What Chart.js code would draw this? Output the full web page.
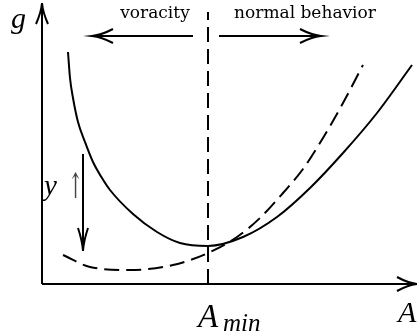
<!DOCTYPE html>
<html>
<head>
<meta charset="utf-8">
<script src="https://cdn.jsdelivr.net/npm/chart.js@4"></script>
<style>
  html, body { margin: 0; padding: 0; background: #fff; }
  #wrap { width: 417px; height: 334px; position: relative; }
</style>
</head>
<body>
<div id="wrap"><canvas id="myChart"></canvas></div>
<script>
// curve samples (A along x, g along y)
const solidA = [26, 28, 31, 36, 43, 51, 60, 68, 91, 115, 138, 166, 201, 235, 268, 301, 335, 370];
const solidG = [232, 206, 186, 162, 142, 122, 106, 94, 70, 52, 41, 38, 47, 67, 96, 131, 171, 219];
const dashedA = [21, 48, 88, 131, 166, 195, 218, 241, 261, 281, 301, 321];
const dashedG = [29, 17, 14, 19, 31, 47, 66, 91, 115, 146, 181, 219];
const aMin = 166;
const aMinTop = 272;
const axisMaxA = 375;
const axisMaxG = 284;
const topArrowG = 248;

function toPoints(xs, ys) {
    let pts = [];
    for (let i = 0; i < xs.length; i++) {
        pts.push({ x: xs[i], y: ys[i] });
    }
    return pts;
}

function arrowHead(ctx, tx, ty, angle, len, half) {
    const dx = Math.cos(angle), dy = Math.sin(angle);
    const nx = -dy, ny = dx;
    const bx = tx - dx * len, by = ty - dy * len;
    ctx.beginPath();
    ctx.moveTo(bx + nx * half, by + ny * half);
    ctx.quadraticCurveTo(tx - dx * len * 0.45 + nx * half * 0.15, ty - dy * len * 0.45 + ny * half * 0.15, tx, ty);
    ctx.quadraticCurveTo(tx - dx * len * 0.45 - nx * half * 0.15, ty - dy * len * 0.45 - ny * half * 0.15, bx - nx * half, by - ny * half);
    ctx.stroke();
}

function arrow(ctx, x1, y1, x2, y2, len, half) {
    ctx.beginPath();
    ctx.moveTo(x1, y1);
    ctx.lineTo(x2, y2);
    ctx.stroke();
    arrowHead(ctx, x2, y2, Math.atan2(y2 - y1, x2 - x1), len, half);
}

const annotations = {
    id: 'annotations',
    afterDatasetsDraw(chart) {
        const ctx = chart.ctx;
        const px = v => chart.scales.x.getPixelForValue(v);
        const py = v => chart.scales.y.getPixelForValue(v);
        ctx.save();
        ctx.strokeStyle = '#000';
        ctx.fillStyle = '#000';
        ctx.lineWidth = 2;
        ctx.setLineDash([]);
        ctx.lineCap = 'butt';

        // axes
        arrow(ctx, px(0), py(0), px(0), py(281), 21, 6);
        arrow(ctx, px(0), py(0), px(axisMaxA), py(0), 20, 7);

        // voracity / normal behavior arrows
        arrow(ctx, px(151), py(topArrowG), px(50), py(topArrowG), 21, 7);
        arrow(ctx, px(177), py(topArrowG), px(279), py(topArrowG), 21, 7);

        // y increases -> curve shifts down
        arrow(ctx, px(41), py(130), px(41), py(33), 23, 5);

        ctx.textBaseline = 'alphabetic';
        ctx.textAlign = 'center';
        ctx.font = '17px "DejaVu Serif"';
        ctx.fillText('voracity', px(113), py(266));
        ctx.fillText('normal behavior', px(263), py(266));

        ctx.textAlign = 'left';
        ctx.font = 'italic 30px "Liberation Serif"';
        ctx.fillText('g', px(-31), py(256));
        ctx.fillText('A', px(356), py(-38));
        ctx.font = 'italic 33px "Liberation Serif"';
        ctx.fillText('A', px(156), py(-43));
        ctx.font = 'italic 25px "Liberation Serif"';
        ctx.fillText('min', px(181), py(-47));

        ctx.font = 'italic 29px "Liberation Serif"';
        ctx.fillText('y', px(2), py(89));
        ctx.fillStyle = '#444';
        ctx.font = '20px "DejaVu Serif"';
        ctx.translate(px(26), py(86));
        ctx.scale(0.9, 1.75);
        ctx.fillText('\u2191', 0, 0);
        ctx.restore();
    }
};

const ctx = document.getElementById('myChart');

new Chart(ctx, {
    type: 'scatter',
    data: {
        datasets: [{
            data: toPoints(solidA, solidG),
            showLine: true,
            borderColor: '#000',
            borderWidth: 2,
            pointRadius: 0,
            cubicInterpolationMode: 'monotone',
            clip: false
        }, {
            data: toPoints(dashedA, dashedG),
            showLine: true,
            borderColor: '#000',
            borderWidth: 2,
            borderDash: [15, 7],
            pointRadius: 0,
            cubicInterpolationMode: 'monotone',
            clip: false
        }, {
            data: [{ x: aMin, y: 0 }, { x: aMin, y: aMinTop }],
            showLine: true,
            borderColor: '#000',
            borderWidth: 2,
            borderDash: [15, 7],
            pointRadius: 0,
            clip: false
        }]
    },
    options: {
        responsive: true,
        maintainAspectRatio: false,
        animation: false,
        layout: {
            padding: { left: 42, top: 0, right: 0, bottom: 50 }
        },
        plugins: {
            legend: { display: false },
            tooltip: { enabled: false }
        },
        scales: {
            x: { type: 'linear', min: 0, max: axisMaxA, display: false },
            y: { type: 'linear', min: 0, max: axisMaxG, display: false }
        }
    },
    plugins: [annotations]
});
</script>
</body>
</html>
